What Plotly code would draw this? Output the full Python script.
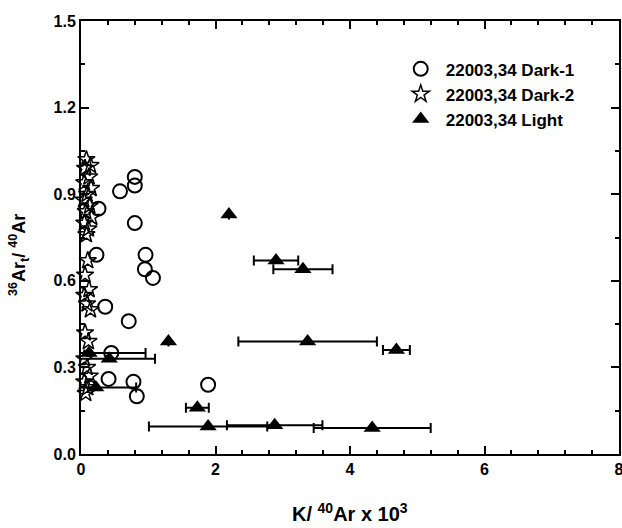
import plotly.graph_objects as go

# Dark-1 (open circles)
d1_x = [0.80, 0.80, 0.58, 0.26, 0.80, 0.23, 0.96, 0.95, 1.07, 0.36, 0.71, 0.45, 0.41, 0.78, 0.83, 1.89]
d1_y = [0.96, 0.93, 0.91, 0.85, 0.80, 0.69, 0.69, 0.64, 0.61, 0.51, 0.46, 0.35, 0.26, 0.25, 0.20, 0.24]

# Dark-2 (open stars)
d2_x = [0.08, 0.14, 0.06, 0.12, 0.05, 0.15, 0.09, 0.04, 0.13, 0.07, 0.16, 0.05, 0.11, 0.08,
        0.10, 0.06, 0.12, 0.05, 0.09, 0.14, 0.06, 0.11, 0.05, 0.09, 0.13, 0.05, 0.10, 0.07]
d2_y = [1.02, 1.00, 0.99, 0.96, 0.94, 0.92, 0.90, 0.88, 0.86, 0.84, 0.82, 0.80, 0.78, 0.76,
        0.67, 0.62, 0.57, 0.55, 0.52, 0.50, 0.42, 0.39, 0.33, 0.30, 0.27, 0.25, 0.23, 0.21]

# Light (filled triangles) with x error
lt_x = [2.20, 2.90, 3.30, 1.30, 3.37, 4.69, 0.12, 0.42, 0.22, 1.73, 1.89, 2.88, 4.33]
lt_y = [0.83, 0.67, 0.64, 0.39, 0.39, 0.36, 0.35, 0.33, 0.23, 0.16, 0.095, 0.10, 0.09]
lt_err = [0.0, 0.33, 0.44, 0.0, 1.03, 0.20, 0.84, 0.68, 0.60, 0.17, 0.88, 0.71, 0.87]

x_ticks = [0, 2, 4, 6, 8]
y_ticks = [0.0, 0.3, 0.6, 0.9, 1.2, 1.5]

FONT = "Liberation Sans, Arial, sans-serif"

fig = go.Figure()

# error bars (clipped to axes)
fig.add_trace(go.Scatter(
    x=lt_x, y=lt_y, mode="markers", showlegend=False, hoverinfo="skip",
    marker=dict(size=1, color="rgba(0,0,0,0)"),
    error_x=dict(type="data", array=lt_err, visible=True, color="black",
                 thickness=2, width=5),
    cliponaxis=True,
))

fig.add_trace(go.Scatter(
    x=d1_x, y=d1_y, mode="markers", name="22003,34 Dark-1",
    marker=dict(symbol="circle-open", size=14, color="black", line=dict(width=2, color="black")),
    cliponaxis=False,
))
fig.add_trace(go.Scatter(
    x=d2_x, y=d2_y, mode="markers", name="22003,34 Dark-2",
    marker=dict(symbol="star-open", size=13, color="black", line=dict(width=1.5, color="black")),
    cliponaxis=False,
))
fig.add_trace(go.Scatter(
    x=lt_x, y=lt_y, mode="markers", name="22003,34 Light",
    marker=dict(symbol="triangle-up", size=15, color="black", line=dict(width=0)),
    cliponaxis=False,
))

axis_common = dict(
    showgrid=False, zeroline=False, showline=True, linecolor="black", linewidth=2,
    mirror="ticks", ticks="inside", ticklen=8, tickwidth=2, tickcolor="black",
    tickfont=dict(family=FONT, size=16, color="black", weight="bold"),
    automargin=False, ticklabeloverflow="allow",
)

fig.update_xaxes(range=[0, 8], tickvals=x_ticks, ticktext=[str(v) for v in x_ticks],
                 minor=dict(ticks="inside", dtick=0.4, ticklen=4, tickwidth=2, tickcolor="black"),
                 **axis_common)
fig.update_yaxes(range=[0, 1.5], tickvals=y_ticks, ticktext=[f"{v:.1f}" for v in y_ticks],
                 minor=dict(ticks="inside", dtick=0.15, ticklen=4, tickwidth=2, tickcolor="black"),
                 **axis_common)

fig.add_annotation(text="K/ <sup>40</sup>Ar x 10<sup>3</sup>", xref="paper", yref="paper",
                   x=0.5, y=-0.134, xanchor="center", yanchor="middle", showarrow=False,
                   font=dict(family=FONT, size=20, color="black", weight="bold"))
fig.add_annotation(text="<sup>36</sup>Ar<sub>t</sub>/ <sup>40</sup>Ar", xref="paper", yref="paper",
                   x=-0.115, y=0.46, xanchor="center", yanchor="middle", textangle=-90, showarrow=False,
                   font=dict(family=FONT, size=18, color="black", weight="bold"))

fig.update_layout(
    width=622, height=528,
    margin=dict(l=81, r=3, t=21, b=74),
    paper_bgcolor="white", plot_bgcolor="white",
    legend=dict(x=0.585, y=0.93, xanchor="left", yanchor="top",
                bgcolor="rgba(0,0,0,0)", borderwidth=0,
                font=dict(family=FONT, size=17, color="black", weight="bold"),
                itemwidth=40, tracegroupgap=0),
    showlegend=True,
)

fig.write_html("out.html")
